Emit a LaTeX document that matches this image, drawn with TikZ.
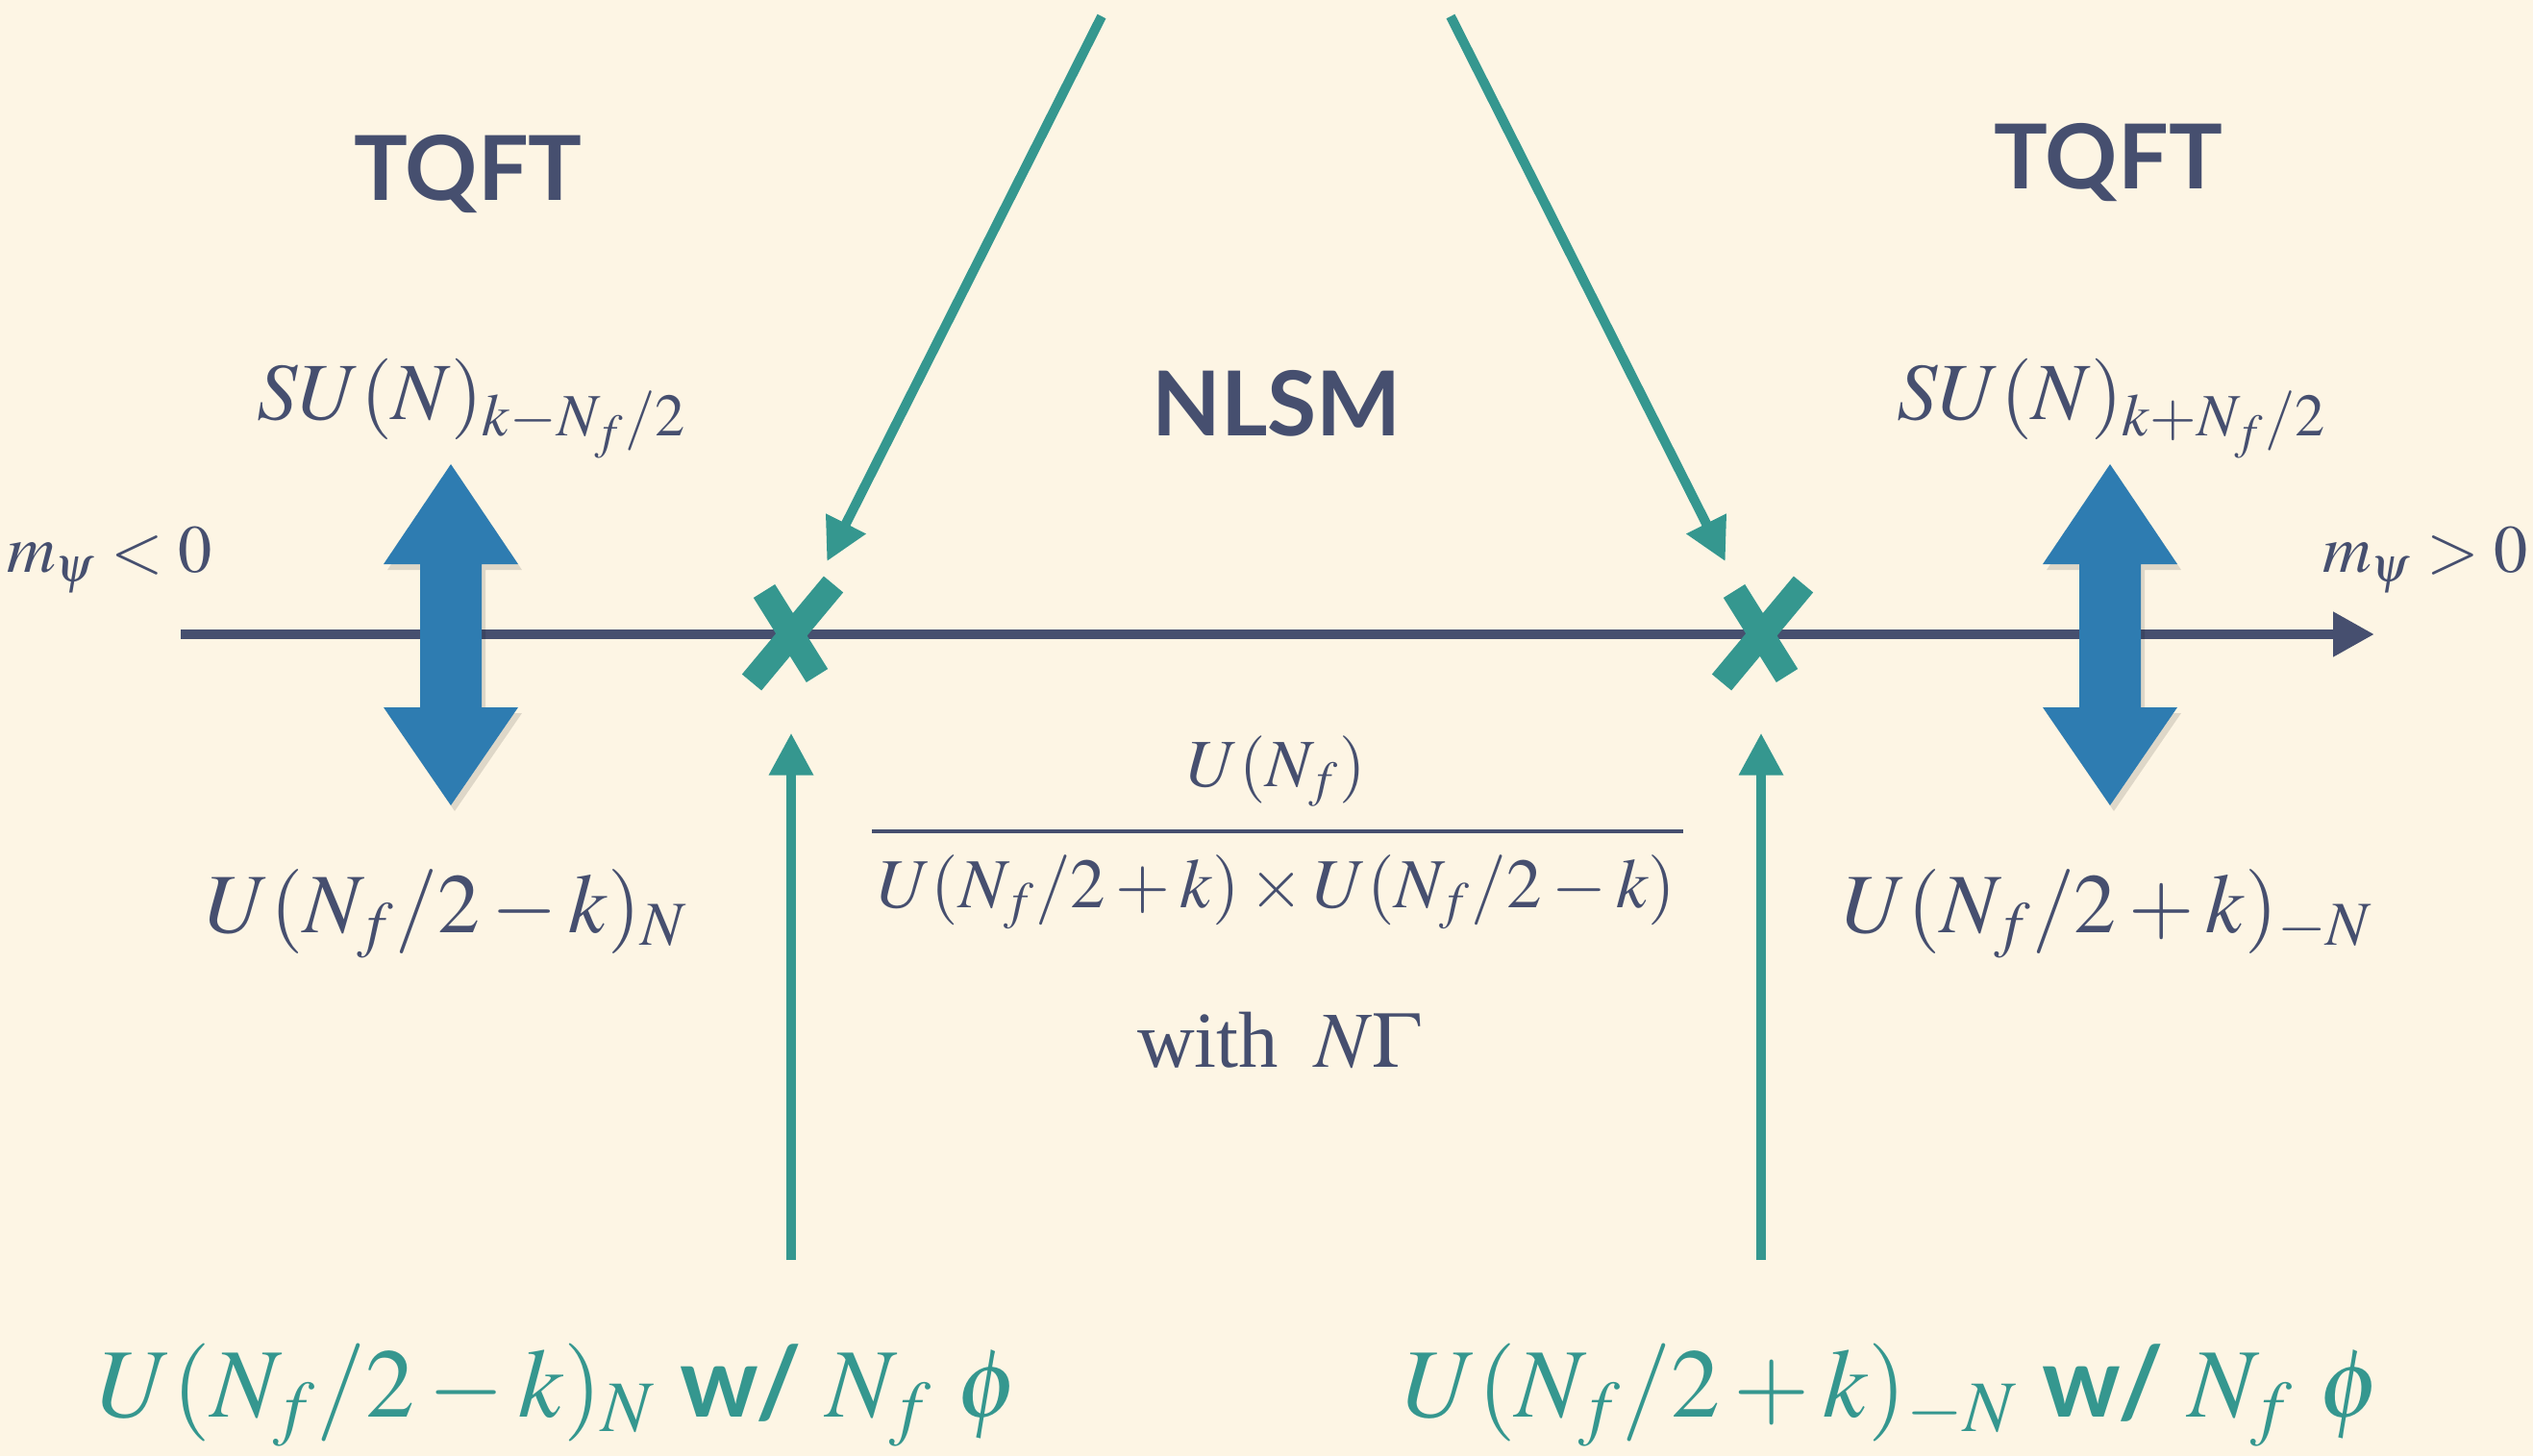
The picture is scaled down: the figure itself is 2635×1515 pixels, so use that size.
\documentclass[tikz,border=0pt]{standalone}
\usepackage{mathptmx}
\usepackage[no-math]{fontspec}
\setmainfont{Liberation Serif}
\newfontfamily\gillfont{Lato}
\usetikzlibrary{arrows.meta}
\definecolor{bgcol}{HTML}{FDF5E4}
\definecolor{inkcol}{HTML}{464F6F}
\definecolor{tealcol}{HTML}{35978F}
\definecolor{bluecol}{HTML}{2E7CB1}

\begin{document}
\begin{tikzpicture}[x=0.01cm,y=-0.01cm,
    txt/.style={inner sep=0pt, anchor=base},
    ink/.style={txt, text=inkcol},
    phase/.style={ink, font=\gillfont\bfseries\fontsize{26.5}{30}\selectfont},
    pointer/.style={tealcol, line width=2.85pt, -{Triangle[length=12.5pt,width=12.5pt]}},
    crossline/.style={tealcol, line width=7.5pt},
    crit/.style={circle, minimum size=1.64cm, inner sep=0pt}]
    \fill[bgcol] (0,0) rectangle (2635,1515);
    \useasboundingbox (0,0) rectangle (2635,1515);

    % mass axis
    \coordinate (axL) at (188,660);
    \coordinate (axR) at (2470,660);
    \draw[inkcol, line width=3.1pt, -{Triangle[length=12.2pt,width=12.5pt]}] (axL) -- (axR);
    \node[ink, font=\fontsize{20}{24}\selectfont] (mneg) at (114,595) {$m_\psi<0$};
    \node[ink, font=\fontsize{20}{24}\selectfont] (mpos) at (2523,595) {$m_\psi>0$};

    % big blue double arrows (with a faint shadow)
    \foreach \cx in {469,2195} {
        \fill[black, opacity=0.12] ({\cx+4},489) -- ({\cx+74},593) -- ({\cx+36},593) -- ({\cx+36},742)
            -- ({\cx+74},742) -- ({\cx+4},844) -- ({\cx-66},742) -- ({\cx-28},742) -- ({\cx-28},593)
            -- ({\cx-66},593) -- cycle;
        \fill[bluecol] (\cx,483) -- ({\cx+70},587) -- ({\cx+32},587) -- ({\cx+32},736)
            -- ({\cx+70},736) -- (\cx,838) -- ({\cx-70},736) -- ({\cx-32},736) -- ({\cx-32},587)
            -- ({\cx-70},587) -- cycle;
    }

    % critical points
    \node[crit] (xL) at (823,658) {};
    \node[crit] (xR) at (1832,658) {};
    \foreach \p in {xL,xR} {
        \draw[crossline] (\p) ++(-28,-43) -- ++(55,88);
        \draw[crossline] (\p) ++(44,-50) -- ++(-85,102);
    }

    % phases
    \node[phase] (tqftL) at (487,208) {TQFT};
    \node[phase] (tqftR) at (2193,196) {TQFT};
    \node[phase] (nlsm) at (1328,453) {NLSM};

    \node[ink, font=\fontsize{24}{28}\selectfont] (suL) at (491,436) {$SU(N)_{k-N_f/2}$};
    \node[ink, font=\fontsize{24}{28}\selectfont] (suR) at (2197,436) {$SU(N)_{k+N_f/2}$};
    \node[ink, font=\fontsize{25}{30}\selectfont] (uL) at (465,970) {$U(N_f/2-k)_N$};
    \node[ink, font=\fontsize{25}{30}\selectfont] (uR) at (2193,970) {$U(N_f/2+k)_{-N}$};

    % target space of the sigma model
    \node[ink, font=\fontsize{20}{24}\selectfont] (num) at (1328,818) {$U(N_f)$};
    \node[ink, font=\fontsize{20.8}{24}\selectfont] (den) at (1328,944) {$U(N_f/2+k)\times U(N_f/2-k)$};
    \draw[inkcol, line width=1.2pt] (907,865) -- (1751,865);
    \node[ink, font=\fontsize{23.5}{28}\selectfont] (wzw) at (1330,1110) {with\hspace{0.45em}$N\Gamma$};

    % dual descriptions at the transitions
    \node[txt, text=tealcol, font=\fontsize{29}{34}\selectfont] (botL) at (581,1474)
        {$U(N_f/2-k)_N$ {\gillfont\bfseries w/} $N_f\ \phi$};
    \node[txt, text=tealcol, font=\fontsize{29}{34}\selectfont] (botR) at (1968,1474)
        {$U(N_f/2+k)_{-N}$ {\gillfont\bfseries w/} $N_f\ \phi$};

    \coordinate (topL) at (1146,17);
    \coordinate (topR) at (1509,17);
    \coordinate (upL) at (823,1311);
    \coordinate (upR) at (1832,1311);
    \draw[pointer] (topL) -- (xL);
    \draw[pointer] (topR) -- (xR);
    \draw[pointer, shorten >=0.22cm] (upL) -- (xL);
    \draw[pointer, shorten >=0.22cm] (upR) -- (xR);
\end{tikzpicture}
\end{document}
